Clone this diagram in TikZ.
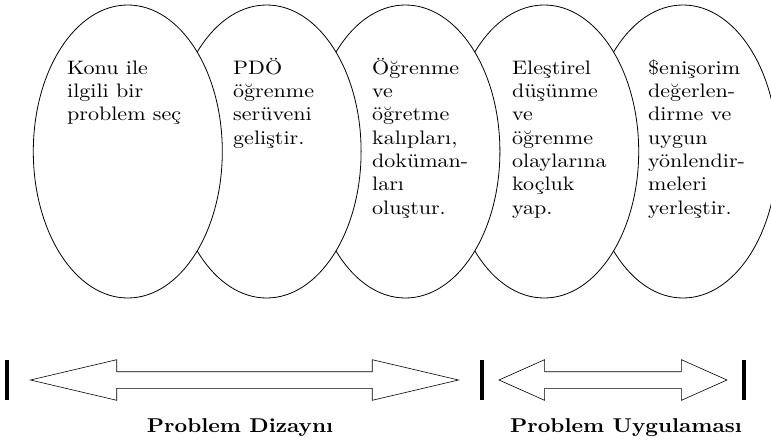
\documentclass[tikz,border=0pt]{standalone}
\usepackage{fontspec}
\setmainfont{lmroman10-regular.otf}[FakeStretch=1.13, BoldFont=lmroman10-bold.otf, BoldFeatures={FakeStretch=1.1}]
\usepackage{tikz}
\usetikzlibrary{shapes,arrows,positioning,calc}

\begin{document}
\begin{tikzpicture}[x=1pt, y=-1pt,
  stage/.style={draw, ellipse, fill=white, line width=0.8pt, minimum width=189pt, minimum height=293pt},
  stagetext/.style={anchor=base west, align=left, inner sep=0pt},
  endbar/.style={fill=black, inner sep=0pt, minimum width=3.5pt, minimum height=40pt},
  phasearrow/.style={draw, double arrow, line width=0.6pt, inner xsep=0pt, inner ysep=8pt, double arrow head extend=12pt},
  node distance=138.8pt, on grid,
  every node/.style={font=\fontsize{19.5}{23.3}\selectfont}]
  \useasboundingbox (0,0) rectangle (771,441);

  % Stages, right to left so each one covers the next
  \node[stage] (s5) at (683,151.5) {};
  \node[stage] (s4) [left=of s5] {};
  \node[stage] (s3) [left=of s4] {};
  \node[stage] (s2) [left=of s3] {};
  \node[stage] (s1) [left=of s2] {};

  % Texts of the stages (base = last line)
  \node[stagetext] (t1) at (67,120.9) {Konu ile\\ilgili bir\\problem seç};
  \node[stagetext] (t2) at (233,144.2) {PDÖ\\öğrenme\\serüveni\\geliştir.};
  \node[stagetext] (t3) at (372,214.1) {Öğrenme\\ve\\öğretme\\kalıpları,\\doküman-\\ları\\oluştur.};
  \node[stagetext] (t4) at (512,214.1) {Eleştirel\\düşünme\\ve\\öğrenme\\olaylarına\\koçluk\\yap.};
  \node[stagetext] (t5) at (648,214.1) {\$enişorim\\değerlen-\\dirme ve\\uygun\\yönlendir-\\meleri\\yerleştir.};

  % Bars and arrows for the two phases
  \node[endbar] (b1) at (7,380) {};
  \node[endbar] (b2) at (482,380) {};
  \node[endbar] (b3) at (744,380) {};
  \node[phasearrow, minimum height=428pt, double arrow tip angle=26.5] (a1) at ($(b1)!0.5!(b2)$) {};
  \node[phasearrow, minimum height=228pt, double arrow tip angle=48] (a2) at ($(b2)!0.5!(b3)$) {};
  \node[font=\bfseries\fontsize{20}{24}\selectfont, anchor=base] (l1) at (240,432) {Problem Dizaynı};
  \node[font=\bfseries\fontsize{20}{24}\selectfont, anchor=base] (l2) at (626,432) {Problem Uygulaması};
\end{tikzpicture}
\end{document}
